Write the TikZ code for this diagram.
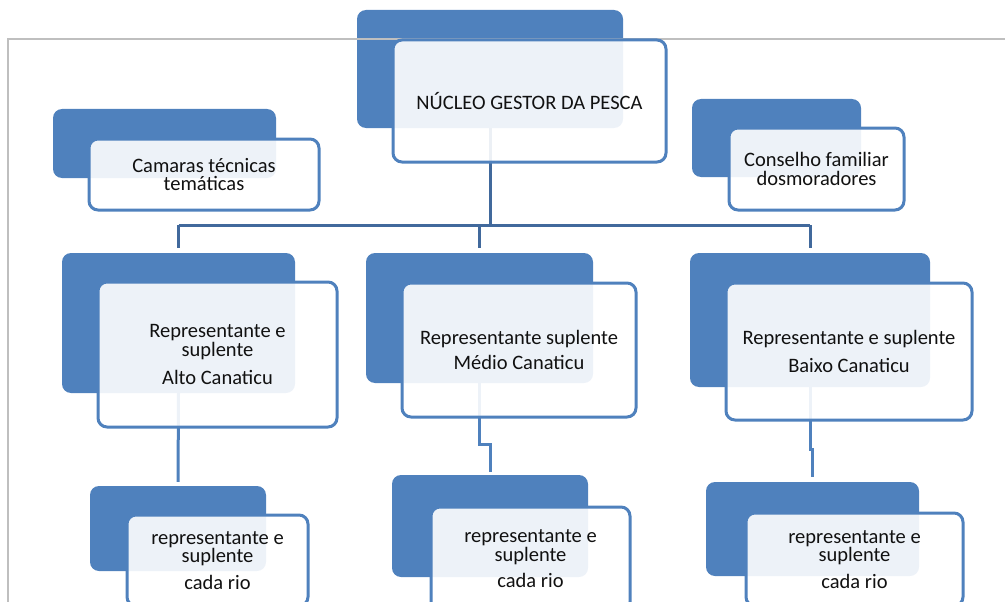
\documentclass[tikz,border=0pt]{standalone}
\usepackage{fontspec}
\setmainfont{Carlito}
\usetikzlibrary{positioning, calc}
\definecolor{boxBlue}{HTML}{4F81BD}
\definecolor{busBlue}{HTML}{41699C}
\definecolor{frameGray}{HTML}{BFBFBF}
\definecolor{inkText}{HTML}{111111}
\tikzset{
  backbox/.style={rectangle, rounded corners=9pt, fill=boxBlue, draw=none,
    inner sep=0pt},
  frontbox/.style={rectangle, rounded corners=9pt, draw=boxBlue,
    line width=3pt, fill=white, fill opacity=0.9, text opacity=1,
    text=inkText, align=center, inner sep=0pt,
    font=\fontsize{20.5}{18.5}\selectfont},
  busline/.style={busBlue, line width=3pt},
  linkline/.style={boxBlue, line width=3pt},
  frameline/.style={frameGray, line width=1.5pt},
}

\begin{document}
\begin{tikzpicture}[x=1pt, y=-1pt]
    \useasboundingbox (0,0) rectangle (1005,602);
    \clip (0,0) rectangle (1005,602);
    \node[backbox, minimum width=266pt, minimum height=118pt] (nucleoBack) at (490,69) {};
    \node[backbox, minimum width=223pt, minimum height=69pt] (camarasBack) at (164.5,143.5) {};
    \node[backbox, minimum width=169pt, minimum height=78pt] (conselhoBack) at (776.5,138) {};
    \node[backbox, minimum width=233pt, minimum height=140pt] (altoBack) at (178.5,323) {};
    \node[backbox, minimum width=227pt, minimum height=130pt] (medioBack) at (479.5,318) {};
    \node[backbox, minimum width=240pt, minimum height=134pt] (baixoBack) at (810,320) {};
    \node[backbox, minimum width=176pt, minimum height=85pt] (altoRioBack) at (178,528.5) {};
    \node[backbox, minimum width=196pt, minimum height=102pt] (medioRioBack) at (490,526) {};
    \node[backbox, minimum width=213pt, minimum height=94pt] (baixoRioBack) at (812.5,529) {};
    \draw[frameline] (8,602) |- (1005,39);
    \coordinate (bus) at (490,225);
    \draw[busline] (nucleoBack.south) -- (bus);
    \draw[busline] (altoBack.north |- bus) -- (baixoBack.north |- bus);
    \foreach \col in {altoBack, medioBack, baixoBack}
      \draw[busline, shorten >=5pt] (\col.north |- bus) -- (\col.north);
    \draw[linkline, shorten >=4pt] (altoBack.south) -- (altoRioBack.north);
    \draw[linkline, shorten >=3pt] (medioBack.south)
      |- ($(medioBack.south)!.67!(medioRioBack.north)$) -| (medioRioBack.north);
    \draw[linkline, shorten >=5pt] (baixoBack.south)
      |- ($(baixoBack.south)!.66!(baixoRioBack.north)$) -| (baixoRioBack.north);
    \node[frontbox, minimum width=273pt, minimum height=122pt] (nucleo) at (529.5,101)
      {NÚCLEO GESTOR DA PESCA};
    \node[frontbox, minimum width=230pt, minimum height=71pt] (camaras) at (204,174.5)
      {Camaras técnicas\\temáticas};
    \node[frontbox, minimum width=175pt, minimum height=82pt] (conselho) at (816.5,169)
      {Conselho familiar\\dosmoradores};
    \node[frontbox, minimum width=239pt, minimum height=145pt] (alto) at (217.5,354.5)
      {Representante e\\suplente\\[10pt]Alto Canaticu};
    \node[frontbox, minimum width=234pt, minimum height=134pt] (medio) at (519,350)
      {Representante suplente\\[7pt]Médio Canaticu};
    \node[frontbox, minimum width=246pt, minimum height=137pt] (baixo) at (849,351.5)
      {Representante e suplente\\[9pt]Baixo Canaticu};
    \node[frontbox, minimum width=181pt, minimum height=91pt] (altoRio) at (217.5,560.5)
      {representante e\\suplente\\[8pt]cada rio};
    \node[frontbox, minimum width=199pt, minimum height=104pt] (medioRio) at (530.5,559)
      {representante e\\suplente\\[8pt]cada rio};
    \node[frontbox, minimum width=217pt, minimum height=93pt] (baixoRio) at (854.5,559.5)
      {representante e\\suplente\\[8pt]cada rio};
  \end{tikzpicture}
\end{document}
